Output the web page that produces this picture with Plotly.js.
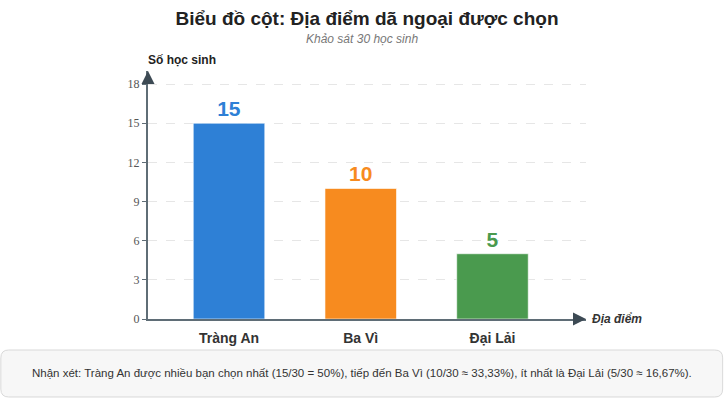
<!DOCTYPE html>
<html>
<head>
<meta charset="utf-8">
<script src="https://cdn.plot.ly/plotly-3.0.1.min.js"></script>
<style>
  html, body { margin: 0; padding: 0; background: #fff; }
  #chart { width: 724px; height: 400px; }
</style>
</head>
<body>
<div id="chart"></div>
<script>
var places = ['Tràng An', 'Ba Vì', 'Đại Lải'];
var students = [15, 10, 5];
var barColors = ['#2e80d6', '#f78b1f', '#4a9a4e'];
var yTicks = [0, 3, 6, 9, 12, 15, 18];
var noteText = 'Nhận xét: Tràng An được nhiều bạn chọn nhất (15/30 = 50%), tiếp đến Ba Vì (10/30 ≈ 33,33%), ít nhất là Đại Lải (5/30 ≈ 16,67%).';

var axisColor = '#5f6d76';

// rounded box in paper coords
function roundBox(x0, y0, x1, y1, rx, ry) {
    return 'M' + (x0 + rx) + ',' + y1 +
        ' L' + (x1 - rx) + ',' + y1 +
        ' Q' + x1 + ',' + y1 + ' ' + x1 + ',' + (y1 - ry) +
        ' L' + x1 + ',' + (y0 + ry) +
        ' Q' + x1 + ',' + y0 + ' ' + (x1 - rx) + ',' + y0 +
        ' L' + (x0 + rx) + ',' + y0 +
        ' Q' + x0 + ',' + y0 + ' ' + x0 + ',' + (y0 + ry) +
        ' L' + x0 + ',' + (y1 - ry) +
        ' Q' + x0 + ',' + y1 + ' ' + (x0 + rx) + ',' + y1 + ' Z';
}

var trace = {
    x: places,
    y: students,
    type: 'bar',
    marker: { color: barColors, line: { color: 'rgba(255,255,255,0.6)', width: 1 } },
    text: students.map(String),
    textposition: 'outside',
    cliponaxis: false,
    textfont: { family: 'Liberation Sans, Arial, sans-serif', size: 21, color: barColors, weight: 'bold' },
    hoverinfo: 'x+y'
};

var layout = {
    width: 724,
    height: 400,
    margin: { l: 148, r: 138, t: 71, b: 81 },
    paper_bgcolor: '#ffffff',
    plot_bgcolor: '#ffffff',
    showlegend: false,
    bargap: 0.457,
    font: { family: 'Liberation Sans, Arial, sans-serif', color: '#333' },
    xaxis: {
        range: [-0.615, 2.71],
        showline: true,
        linecolor: axisColor,
        linewidth: 2,
        ticks: '',
        showgrid: false,
        zeroline: false,
        ticklabelstandoff: 5,
        tickfont: { family: 'Liberation Sans, Arial, sans-serif', size: 14, color: '#333', weight: 'bold' },
        fixedrange: true
    },
    yaxis: {
        range: [0, 19],
        tickvals: yTicks,
        showline: true,
        linecolor: axisColor,
        linewidth: 2,
        ticks: 'outside',
        ticklen: 4,
        tickwidth: 1,
        tickcolor: axisColor,
        showgrid: true,
        gridcolor: '#e6e6e6',
        griddash: 'dash',
        gridwidth: 1,
        zeroline: false,
        tickfont: { family: 'Liberation Serif, DejaVu Serif, serif', size: 12, color: '#555' },
        fixedrange: true
    },
    title: {
        text: '<b>Biểu đồ cột: Địa điểm dã ngoại được chọn</b>',
        x: 0.5,
        xref: 'paper',
        y: 0.955,
        yref: 'container',
        xanchor: 'center',
        yanchor: 'middle',
        font: { family: 'Liberation Sans, Arial, sans-serif', size: 19, color: '#222' }
    },
    shapes: [
        {
            type: 'path',
            xref: 'paper', yref: 'paper',
            path: roundBox(-0.336, -0.3145, 1.312, -0.125, 0.018, 0.032),
            fillcolor: '#f7f7f7',
            line: { color: '#d9d9d9', width: 1 },
            layer: 'below'
        }
    ],
    annotations: [
        {
            text: '<i>Khảo sát 30 học sinh</i>',
            xref: 'paper', yref: 'paper',
            x: 0.489, y: 1.129, xanchor: 'center', yanchor: 'middle',
            showarrow: false,
            font: { size: 12, color: '#777' }
        },
        {
            text: '<b>Số học sinh</b>',
            xref: 'paper', yref: 'paper',
            x: -0.005, y: 1.044, xanchor: 'left', yanchor: 'middle',
            showarrow: false,
            font: { size: 12, color: '#222' }
        },
        {
            text: '<b><i>Địa điểm</i></b>',
            xref: 'paper', yref: 'paper',
            x: 1.01, y: 0.0, xanchor: 'left', yanchor: 'middle',
            showarrow: false,
            font: { size: 12, color: '#333' }
        },
        {
            // arrow head, x axis
            text: '',
            xref: 'paper', yref: 'paper',
            x: 1.0, y: 0,
            ax: -10, ay: 0,
            showarrow: true,
            arrowhead: 2, arrowsize: 1.3, arrowwidth: 2,
            arrowcolor: '#3d4a54'
        },
        {
            // arrow head, y axis
            text: '',
            xref: 'paper', yref: 'paper',
            x: 0, y: 1.0,
            ax: 0, ay: 10,
            showarrow: true,
            arrowhead: 2, arrowsize: 1.3, arrowwidth: 2,
            arrowcolor: '#3d4a54'
        },
        {
            text: noteText,
            xref: 'paper', yref: 'paper',
            x: 0.488, y: -0.219, xanchor: 'center', yanchor: 'middle',
            showarrow: false,
            font: { size: 11.5, color: '#333' }
        }
    ]
};

Plotly.newPlot('chart', [trace], layout, { displayModeBar: false, staticPlot: true });
</script>
</body>
</html>
